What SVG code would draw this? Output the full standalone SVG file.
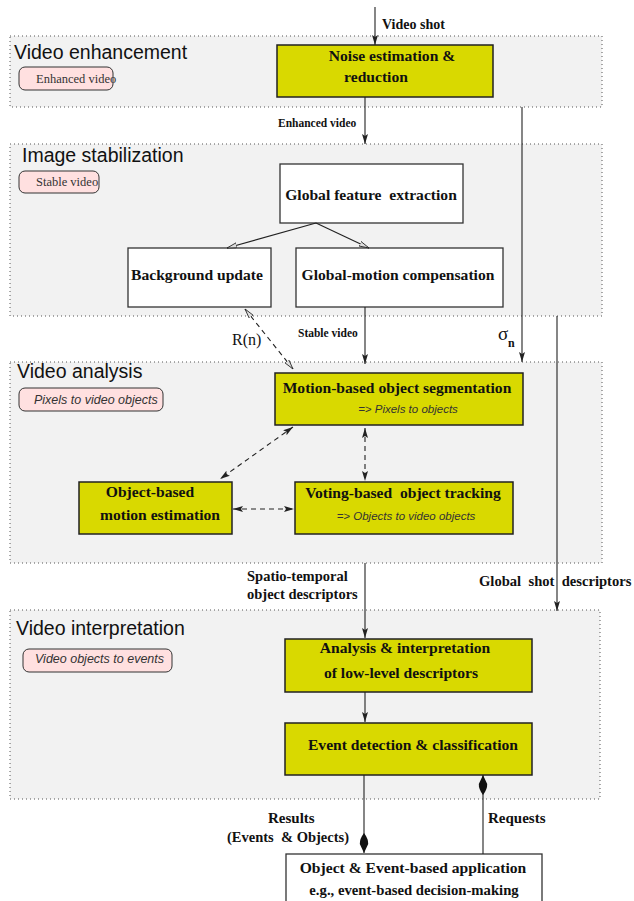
<svg xmlns="http://www.w3.org/2000/svg" width="634" height="901" viewBox="0 0 634 901">
  <defs>
    <style>
      .panel { fill: #f2f2f2; stroke: #555; stroke-width: 1; stroke-dasharray: 1 3; }
      .title { font-family: "Liberation Sans", Arial, sans-serif; font-size: 19.5px; fill: #111; }
      .pill { fill: #ffe0e0; stroke: #333; stroke-width: 1; }
      .pilltxt { font-family: "Liberation Serif", serif; font-size: 12.5px; fill: #333; }
      .pilli { font-family: "Liberation Sans", Arial, sans-serif; font-style: italic; font-size: 12.5px; fill: #333; }
      .yel { fill: #d9d900; stroke: #222; stroke-width: 1.5; }
      .wht { fill: #ffffff; stroke: #333; stroke-width: 1.3; }
      .nt { font-family: "Liberation Serif", serif; font-weight: bold; font-size: 15.6px; fill: #111; text-anchor: middle; }
      .sub { font-family: "Liberation Sans", Arial, sans-serif; font-style: italic; font-size: 11.5px; fill: #333; text-anchor: middle; }
      .lbl { font-family: "Liberation Serif", serif; font-weight: bold; fill: #111; white-space: pre; }
      .line { fill: none; stroke: #222; stroke-width: 1.1; }
      .dash { fill: none; stroke: #222; stroke-width: 1.1; stroke-dasharray: 5 4; }
    </style>
    <marker id="arr" viewBox="0 0 10 6" refX="10" refY="3" markerWidth="10" markerHeight="6" markerUnits="userSpaceOnUse" orient="auto-start-reverse">
      <path d="M0,0 L10,3 L0,6 L2,3 Z" fill="#222"/>
    </marker>
    <marker id="open" viewBox="0 0 10 6" refX="10" refY="3" markerWidth="10" markerHeight="6" markerUnits="userSpaceOnUse" orient="auto-start-reverse">
      <path d="M0,0.5 L10,3 L0,5.5 Z" fill="#ddd" stroke="#222" stroke-width="0.8"/>
    </marker>
    <marker id="kite" viewBox="0 0 20 10" refX="20" refY="5" markerWidth="20" markerHeight="10" markerUnits="userSpaceOnUse" orient="auto-start-reverse">
      <path d="M0,5 Q6,0.5 11,0.8 L20,5 L11,9.2 Q6,9.5 0,5 Z" fill="#111"/>
    </marker>
  </defs>

  <!-- stage panels -->
  <g id="panel-enhancement">
    <rect class="panel" x="10" y="36" width="592" height="71"/>
    <text class="title" x="14" y="59">Video enhancement</text>
    <rect class="pill" x="19" y="67" width="94" height="23" rx="6"/>
    <text class="pilltxt" x="36" y="83">Enhanced video</text>
  </g>
  <g id="panel-stabilization">
    <rect class="panel" x="10" y="144" width="592" height="172"/>
    <text class="title" x="22" y="162">Image stabilization</text>
    <rect class="pill" x="19" y="171" width="80" height="22" rx="6"/>
    <text class="pilltxt" x="36" y="186">Stable video</text>
  </g>
  <g id="panel-analysis">
    <rect class="panel" x="10" y="362" width="592" height="201"/>
    <text class="title" x="17" y="378">Video analysis</text>
    <rect class="pill" x="19" y="388" width="144" height="23" rx="6"/>
    <text class="pilli" x="34" y="404">Pixels to video objects</text>
  </g>
  <g id="panel-interpretation">
    <rect class="panel" x="10" y="610" width="590" height="189"/>
    <text class="title" x="16" y="635">Video interpretation</text>
    <rect class="pill" x="23" y="649" width="149" height="23" rx="6"/>
    <text class="pilli" x="35" y="663">Video objects to events</text>
  </g>

  <!-- processing nodes -->
  <g id="noise">
    <rect class="yel" x="277" y="45" width="216" height="52"/>
    <text class="nt" x="392" y="61">Noise estimation &amp;</text>
    <text class="nt" x="376" y="82">reduction</text>
  </g>
  <g id="global-feature">
    <rect class="wht" x="280" y="164" width="183" height="59"/>
    <text class="nt" x="371" y="200" style="white-space:pre">Global feature  extraction</text>
  </g>
  <g id="background-update">
    <rect class="wht" x="128" y="248" width="143" height="59"/>
    <text class="nt" x="197" y="280">Background update</text>
  </g>
  <g id="global-motion">
    <rect class="wht" x="296" y="248" width="207" height="59"/>
    <text class="nt" x="398" y="280">Global-motion compensation</text>
  </g>
  <g id="segmentation">
    <rect class="yel" x="275" y="373" width="248" height="52"/>
    <text class="nt" x="397" y="393">Motion-based object segmentation</text>
    <text class="sub" x="408" y="413">=&gt; Pixels to objects</text>
  </g>
  <g id="motion-estimation">
    <rect class="yel" x="79" y="482" width="153" height="52"/>
    <text class="nt" x="150" y="497">Object-based</text>
    <text class="nt" x="160" y="520">motion estimation</text>
  </g>
  <g id="tracking">
    <rect class="yel" x="295" y="482" width="218" height="52"/>
    <text class="nt" x="403" y="498" style="white-space:pre">Voting-based  object tracking</text>
    <text class="sub" x="406" y="520">=&gt; Objects to video objects</text>
  </g>
  <g id="analysis">
    <rect class="yel" x="285" y="639" width="247" height="53"/>
    <text class="nt" x="405" y="653">Analysis &amp; interpretation</text>
    <text class="nt" x="401" y="678">of low-level descriptors</text>
  </g>
  <g id="event-detection">
    <rect class="yel" x="285" y="723" width="247" height="52"/>
    <text class="nt" x="413" y="750">Event detection &amp; classification</text>
  </g>
  <g id="application">
    <rect class="wht" x="286" y="854" width="256" height="60"/>
    <text class="nt" x="413" y="873">Object &amp; Event-based application</text>
    <text class="nt" x="414" y="895" style="font-size:14.7px">e.g., event-based decision-making</text>
  </g>

  <!-- connectors -->
  <g id="connectors">
    <line class="line" x1="375" y1="7" x2="375" y2="45" marker-end="url(#arr)"/>
    <line class="line" x1="365" y1="97" x2="365" y2="144" marker-end="url(#arr)"/>
    <line class="line" x1="522" y1="107" x2="522" y2="362" marker-end="url(#arr)"/>
    <line class="line" x1="557" y1="316" x2="557" y2="611" marker-end="url(#arr)"/>
    <line class="line" x1="316" y1="223" x2="227" y2="248" marker-end="url(#open)"/>
    <line class="line" x1="316" y1="223" x2="369" y2="248" marker-end="url(#open)"/>
    <line class="line" x1="365" y1="307" x2="365" y2="364" marker-end="url(#arr)"/>
    <line class="dash" x1="245" y1="309" x2="293" y2="369" marker-start="url(#open)" marker-end="url(#open)"/>
    <line class="dash" x1="293" y1="427" x2="220" y2="479" marker-start="url(#arr)" marker-end="url(#arr)"/>
    <line class="dash" x1="365" y1="428" x2="365" y2="481" marker-start="url(#arr)" marker-end="url(#arr)"/>
    <line class="dash" x1="233" y1="509" x2="294" y2="509" marker-start="url(#arr)" marker-end="url(#arr)"/>
    <line class="line" x1="365" y1="563" x2="365" y2="638" marker-end="url(#arr)"/>
    <line class="line" x1="365" y1="692" x2="365" y2="722" marker-end="url(#arr)"/>
    <line class="line" x1="364" y1="775" x2="364" y2="853" marker-end="url(#kite)"/>
    <line class="line" x1="483" y1="854" x2="483" y2="775" marker-end="url(#kite)"/>
  </g>

  <!-- connector labels -->
  <g id="labels">
    <text class="lbl" x="382" y="29" font-size="14">Video shot</text>
    <text class="lbl" x="278" y="127" font-size="11.5">Enhanced video</text>
    <text class="lbl" x="298" y="337" font-size="11.5">Stable video</text>
    <text x="232" y="345" font-family="Liberation Serif, serif" font-size="16" fill="#111">R(n)</text>
    <text x="498" y="340" font-family="Liberation Serif, serif" font-size="19" fill="#111">σ</text>
    <text class="lbl" x="508" y="347" font-size="12">n</text>
    <text class="lbl" x="479" y="586" font-size="14.6">Global  shot  descriptors</text>
    <text class="lbl" x="247" y="581" font-size="14.5">Spatio-temporal</text>
    <text class="lbl" x="247" y="599" font-size="14.5">object descriptors</text>
    <text class="lbl" x="268" y="823" font-size="15">Results</text>
    <text class="lbl" x="227" y="842" font-size="14.5">(Events  &amp; Objects)</text>
    <text class="lbl" x="488" y="823" font-size="15">Requests</text>
  </g>
</svg>
